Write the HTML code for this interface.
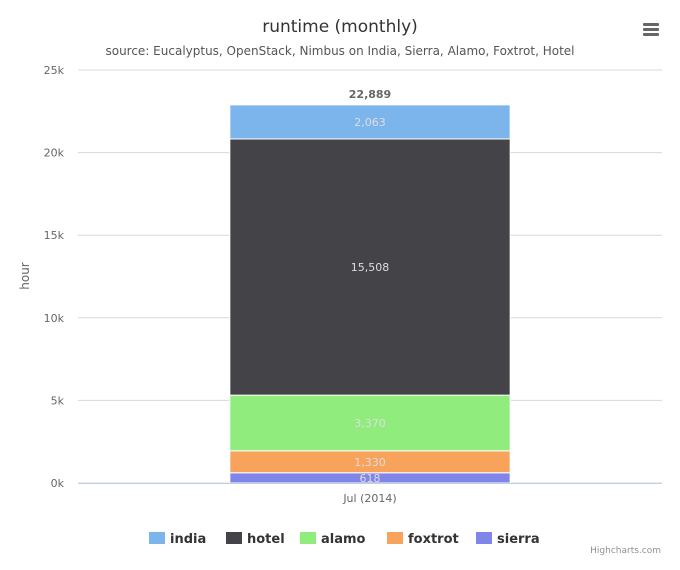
<!DOCTYPE html>
<html><head><meta charset="utf-8"><style>
body{margin:0;background:#fff;font-family:"DejaVu Sans","Liberation Sans",sans-serif}
svg text{font-family:"DejaVu Sans","Liberation Sans",sans-serif}
</style></head><body>
<svg id="chart" width="680" height="566" xmlns="http://www.w3.org/2000/svg">
<rect width="680" height="566" fill="#fff"/>
<text x="340" y="32" text-anchor="middle" font-size="17" fill="#333">runtime (monthly)</text>
<text x="340" y="55" text-anchor="middle" font-size="12" fill="#555">source: Eucalyptus, OpenStack, Nimbus on India, Sierra, Alamo, Foxtrot, Hotel</text>
<g fill="#666">
<rect x="643" y="23" width="16" height="3" rx="1"/><rect x="643" y="28" width="16" height="3" rx="1"/><rect x="643" y="33" width="16" height="3" rx="1"/>
</g>
<g id="grid"></g><g id="bars"></g><g id="legend"></g>
<text x="29" y="276" transform="rotate(-90 29 276)" text-anchor="middle" font-size="12" fill="#666">hour</text>
<text x="661" y="553" text-anchor="end" font-size="9" fill="#909090">Highcharts.com</text>
</svg>
<script>
const categories=["Jul (2014)"];
const seriesNames=["india","hotel","alamo","foxtrot","sierra"];
const seriesValues=[2063,15508,3370,1330,618];
const seriesColors=["#7cb5ec","#434348","#90ed7d","#f7a35c","#8085e9"];
const yTicks=[0,5000,10000,15000,20000,25000];
const yTickLabels=["0k","5k","10k","15k","20k","25k"];
const NS="http://www.w3.org/2000/svg";
const x0=78,x1=662,yBase=483,yTop=70,yMax=25000;
const y=v=>yBase-(v/yMax)*(yBase-yTop);
function mk(t,a,p,txt){const e=document.createElementNS(NS,t);for(const k in a)e.setAttribute(k,a[k]);if(txt!==undefined)e.textContent=txt;p.appendChild(e);return e;}
const grid=document.getElementById('grid');
yTicks.forEach((v,i)=>{
 const l=mk('line',{x1:x0,x2:x1,y1:y(v),y2:y(v),stroke:'#d8d8d8'},grid);
 
 
 const t=mk('text',{x:64,y:y(v)+4,'text-anchor':'end','font-size':11,fill:'#666'},grid,yTickLabels[i]);
 
 
});
const bars=document.getElementById('bars');
const bw=(x1-x0)/categories.length;
categories.forEach((c,ci)=>{
 const bx=x0+ci*bw+bw*0.26, bwid=bw*0.48;
 let cum=0;
 for(let s=seriesNames.length-1;s>=0;s--){
  const v=seriesValues[s];
  const top=y(cum+v),bot=y(cum);
  const r=mk('rect',{x:bx,y:top,width:bwid,height:bot-top,fill:seriesColors[s],stroke:'#fff','stroke-width':1},bars);
  
  
  const t=mk('text',{x:bx+bwid/2,y:(top+bot)/2+4,'text-anchor':'middle','font-size':11,fill:'#ddd'},bars,v.toLocaleString('en-US'));
  
  
  cum+=v;
 }
 const tt=mk('text',{x:bx+bwid/2,y:y(cum)-7,'text-anchor':'middle','font-size':11,'font-weight':'bold',fill:'#666'},bars,cum.toLocaleString('en-US'));
 
 
 const xl=mk('text',{x:x0+ci*bw+bw/2,y:502,'text-anchor':'middle','font-size':11,fill:'#666'},bars,c);
 
 
});
const ax=mk('line',{x1:x0,x2:x1,y1:yBase+0.5,y2:yBase+0.5,stroke:'#c0d0e0'},bars);


const leg=document.getElementById('legend');
const legX=[149,226,300,387,476];
seriesNames.forEach((n,i)=>{
 const g=mk('g',{},leg);
 
 
 mk('rect',{x:legX[i],y:532,width:16,height:12,fill:seriesColors[i]},g);
 mk('text',{x:legX[i]+21,y:543,'font-size':13,'font-weight':'bold',fill:'#333'},g,n);
});
</script>
</body></html>
